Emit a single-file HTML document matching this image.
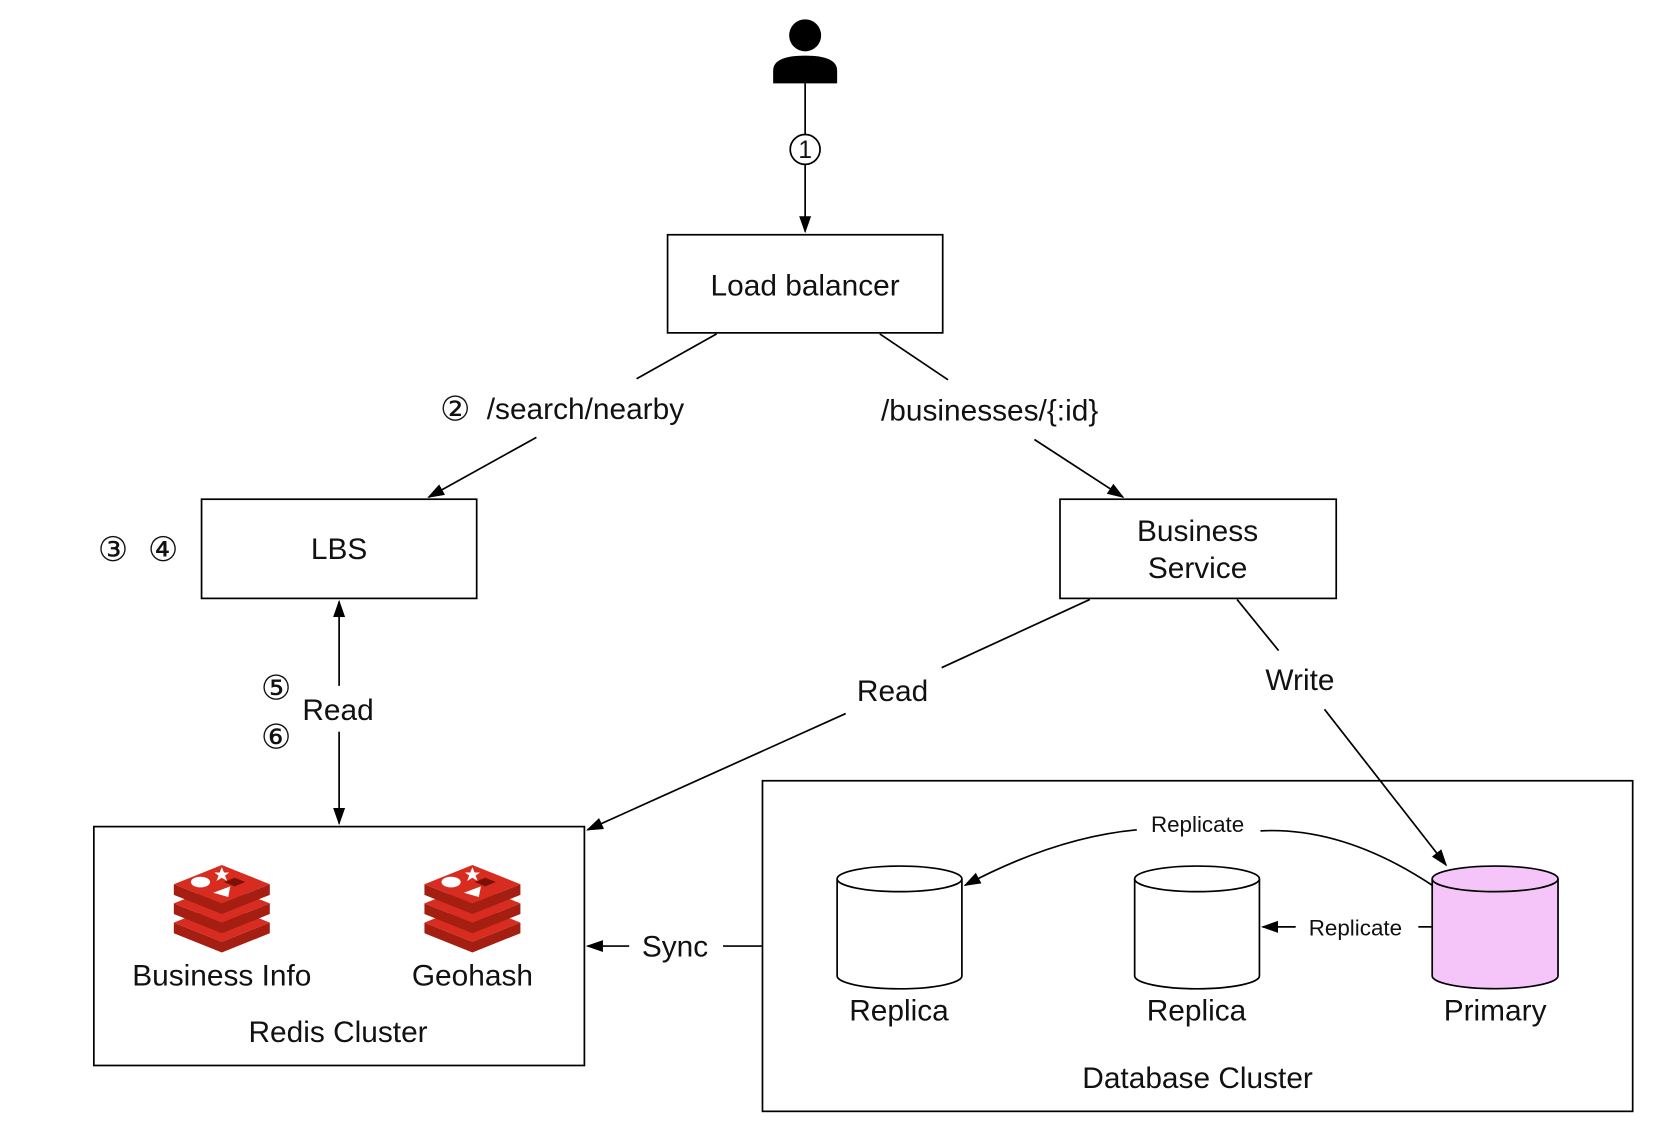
<!DOCTYPE html>
<html><head><meta charset="utf-8"><style>
html,body{margin:0;padding:0;background:#fff;}
svg{display:block;}
text{font-family:"Liberation Sans",sans-serif;fill:#111;}
</style></head><body>
<svg width="1670" height="1136" viewBox="0 0 1566 1065" xmlns="http://www.w3.org/2000/svg">
<defs>
<marker id="a" viewBox="0 0 10 10" refX="9" refY="5" markerWidth="10" markerHeight="10" markerUnits="userSpaceOnUse" orient="auto-start-reverse"><path d="M0,0.5 L10,5 L0,9.5 z" fill="#000"/></marker>
<marker id="b" viewBox="0 0 10 10" refX="9" refY="5" markerWidth="16" markerHeight="16" markerUnits="userSpaceOnUse" orient="auto-start-reverse"><path d="M0,1.5 L10,5 L0,8.5 z" fill="#000"/></marker>
<g id="redis">
<path d="M-45,20 L0,38 L45,20 L45,30 L0,48 L-45,30 z" fill="#a41e11"/>
<path d="M-45,20 L0,2 L45,20 L0,38 z" fill="#d82c20"/>
<path d="M-45,2 L0,20 L45,2 L45,12 L0,30 L-45,12 z" fill="#a41e11"/>
<path d="M-45,2 L0,-16 L45,2 L0,20 z" fill="#d82c20"/>
<path d="M-45,-16 L0,2 L45,-16 L45,-6 L0,12 L-45,-6 z" fill="#a41e11"/>
<path d="M-45,-16 L0,-34 L45,-16 L0,2 z" fill="#d82c20"/>
<ellipse cx="-20" cy="-18" rx="9" ry="5" fill="#fff"/>
<path d="M-8,-8 L8,-14 L6,-4 z" fill="#fff"/>
<path d="M0,-32 l2,5 5,0 -4,3 2,5 -5,-3 -5,3 2,-5 -4,-3 5,0z" fill="#fff"/>
<path d="M12,-22 L22,-18 L12,-14 L2,-18 z" fill="#7a1007"/>
</g>
</defs>
<g stroke="#000" stroke-width="1.6" fill="none">
<circle cx="755" cy="33" r="15" fill="#000" stroke="none"/>
<path d="M725,78 L725,66 Q725,52 755,52 Q785,52 785,66 L785,78 z" fill="#000" stroke="none"/>
<line x1="755" y1="78" x2="755" y2="126"/>
<line x1="755" y1="154" x2="755" y2="217" marker-end="url(#b)"/>
<circle cx="755" cy="140" r="14"/>
<rect x="626" y="220" width="258" height="92"/>
<line x1="672" y1="313" x2="597" y2="355"/>
<line x1="503" y1="410" x2="402" y2="466" marker-end="url(#b)"/>
<line x1="825" y1="313" x2="889" y2="356"/>
<line x1="970" y1="412" x2="1053" y2="466" marker-end="url(#b)"/>
<rect x="189" y="468" width="258" height="93"/>
<rect x="994" y="468" width="259" height="93"/>
<line x1="318" y1="643" x2="318" y2="564" marker-end="url(#b)"/>
<line x1="318" y1="686" x2="318" y2="772" marker-end="url(#b)"/>
<line x1="1022" y1="562" x2="883" y2="626"/>
<line x1="793" y1="669" x2="551" y2="778" marker-end="url(#b)"/>
<line x1="1160" y1="562" x2="1199" y2="610"/>
<line x1="1242" y1="665" x2="1356" y2="811" marker-end="url(#b)"/>
<rect x="88" y="775" width="460" height="224"/>
<rect x="715" y="732" width="816" height="310"/>
<line x1="715" y1="887" x2="678" y2="887"/>
<line x1="590" y1="887" x2="551" y2="887" marker-end="url(#b)"/>
<path d="M1343,830 Q1260,775 1182,779"/>
<path d="M1066,778 Q990,785 905,830" marker-end="url(#b)"/>
<line x1="1343" y1="869" x2="1330" y2="869"/>
<line x1="1215" y1="869" x2="1184" y2="869" marker-end="url(#b)"/>
<g fill="#fff">
<path d="M785,824 L785,915 A58,12 0 0 0 902,915 L902,824"/>
<ellipse cx="843.5" cy="824" rx="58.5" ry="12"/>
<path d="M1064,824 L1064,915 A58,12 0 0 0 1181,915 L1181,824"/>
<ellipse cx="1122.5" cy="824" rx="58.5" ry="12"/>
</g>
<g fill="#f5c4f9">
<path d="M1343,824 L1343,915 A59,12 0 0 0 1461,915 L1461,824"/>
<ellipse cx="1402" cy="824" rx="59" ry="12"/>
</g>
</g>
<use href="#redis" x="208" y="845"/>
<use href="#redis" x="443" y="845"/>
<g font-size="28" text-anchor="middle">
<text x="755" y="148" font-size="23">1</text>
<text x="755" y="277">Load balancer</text>
<text x="427" y="394" font-size="32">②</text>
<text x="549" y="393">/search/nearby</text>
<text x="928" y="394">/businesses/{:id}</text>
<text x="318" y="524">LBS</text>
<text x="106" y="526" font-size="32">③</text>
<text x="153" y="526" font-size="32">④</text>
<text x="1123" y="507">Business</text>
<text x="1123" y="542">Service</text>
<text x="317" y="675">Read</text>
<text x="259" y="656" font-size="32">⑤</text>
<text x="259" y="702" font-size="32">⑥</text>
<text x="837" y="657">Read</text>
<text x="1219" y="647">Write</text>
<text x="208" y="924">Business Info</text>
<text x="443" y="924">Geohash</text>
<text x="317" y="977">Redis Cluster</text>
<text x="633" y="897">Sync</text>
<text x="843" y="957">Replica</text>
<text x="1122" y="957">Replica</text>
<text x="1402" y="957">Primary</text>
<text x="1123" y="1020">Database Cluster</text>
<text x="1123" y="780" font-size="21">Replicate</text>
<text x="1271" y="877" font-size="21">Replicate</text>
</g>
</svg>
</body></html>
